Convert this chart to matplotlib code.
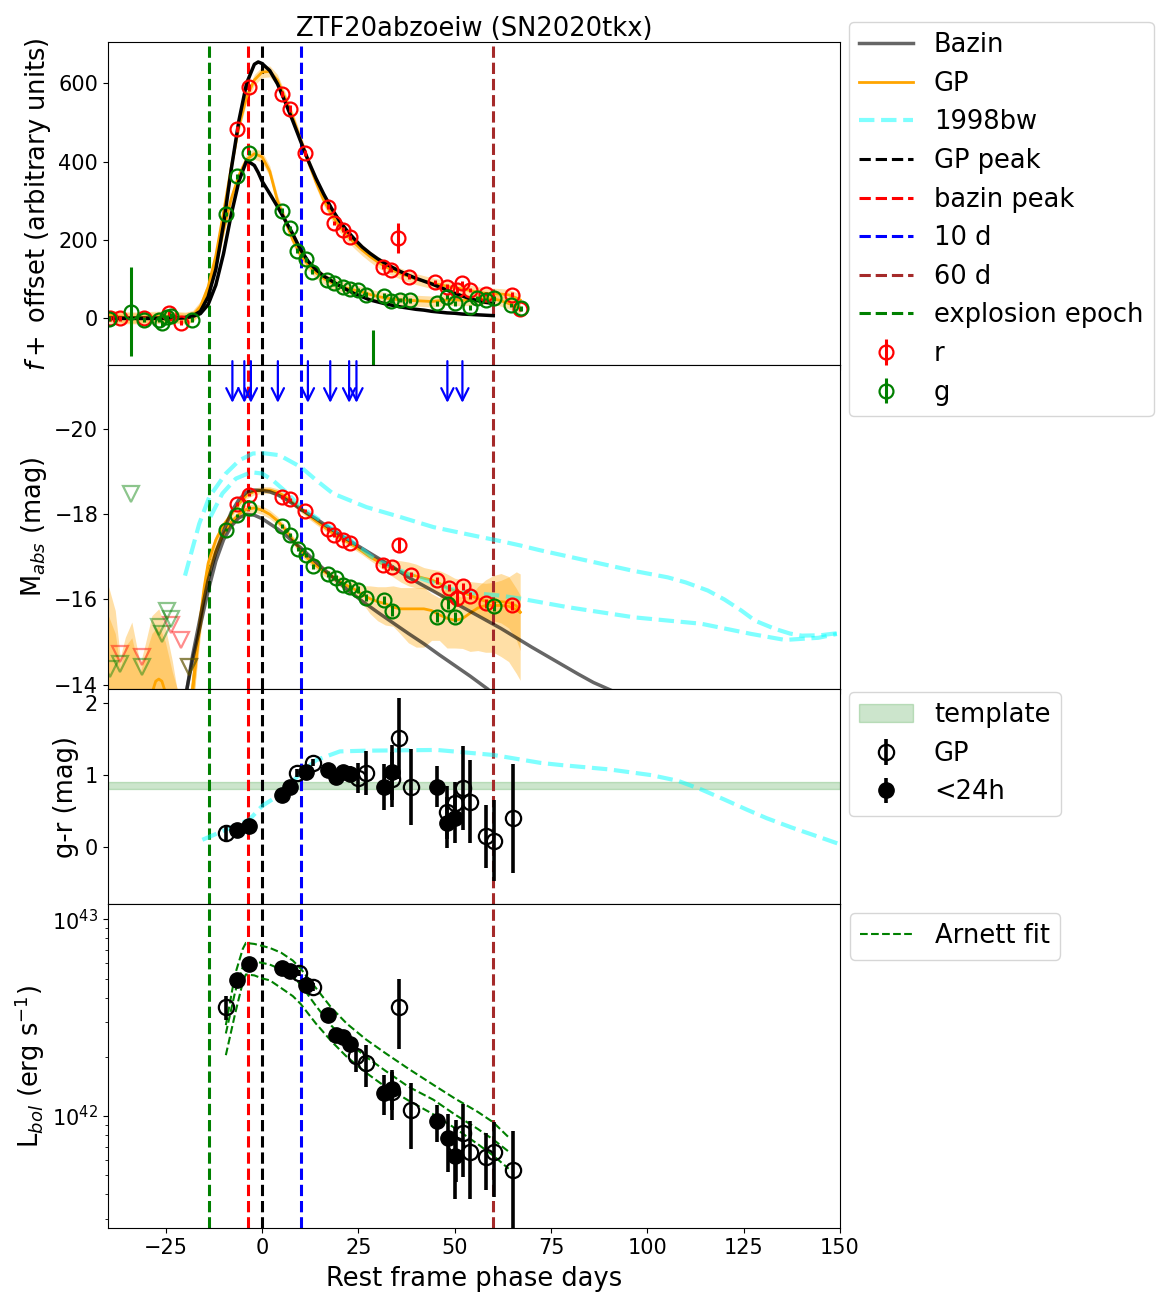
import numpy as np
import matplotlib
matplotlib.use("Agg")
import matplotlib.pyplot as plt
from matplotlib.patches import Patch

# --- photometry (flux, arbitrary units) ---
r_phase = [-39.4, -36.8, -30.7, -24.2, -21.1, -6.4, -3.5, 5.2, 7.3, 11.2, 17.1, 18.8, 20.9, 22.9,
           31.4, 33.4, 35.4, 38.2, 44.9, 48.1, 50.7, 51.9, 54.0, 58.0, 64.9, 66.9]
r_flux = [0, 0, 0, 13, -11, 483, 589, 572, 535, 421, 285, 243, 226, 207,
          132, 123, 204, 106, 93, 81, 72, 89, 72, 62, 60, 24]
r_flux_err = [6, 6, 6, 6, 6, 8, 8, 8, 8, 8, 6, 6, 6, 6,
              6, 6, 38, 6, 6, 6, 8, 6, 6, 6, 6, 6]

g_phase = [-39.8, -33.9, -30.7, -26.8, -25.9, -24.6, -23.7, -18.1, -9.4, -6.4, -3.3, 5.2, 7.3, 9.0,
           11.3, 13.0, 16.8, 18.8, 20.9, 22.9, 24.9, 26.9, 28.7, 31.6, 33.4, 35.8, 38.4, 45.4,
           48.0, 50.1, 54.0, 55.8, 58.0, 60.1, 64.5, 67.1]
g_flux = [-1, 17, -3, -3, -13, 3, 7, -3, 266, 362, 423, 275, 230, 173,
          151, 119, 98, 89, 79, 74, 72, 60, -250, 58, 45, 47, 46, 38,
          55, 38, 28, 51, 47, 51, 34, 26]
g_flux_err = [6, 113, 6, 6, 6, 6, 6, 6, 6, 6, 6, 6, 6, 6,
              6, 6, 6, 6, 6, 6, 6, 6, 220, 6, 6, 6, 6, 6,
              6, 6, 6, 6, 6, 6, 6, 6]

# GP fits to the flux light curves
gpf_phase = [-40, -36, -32, -28, -24, -20, -18, -16, -14, -12, -10, -8, -6, -4, -2, 0, 2, 4, 6, 8,
             10, 12, 14, 16, 18, 20, 22, 24, 26, 28, 30, 32, 34, 36, 38, 40, 42, 44, 46, 48,
             50, 52, 54, 56, 58, 60, 62, 64, 66, 67]
gpf_r = [8, 3, 2, 4, 5, 2, 6, 30, 80, 160, 270, 385, 490, 565, 608, 628, 630, 608, 562, 512,
         456, 400, 348, 302, 265, 236, 212, 192, 174, 158, 144, 132, 122, 114, 107, 100, 95, 90, 86, 82,
         78, 75, 71, 67, 64, 63, 62, 60, 52, 47]
gpf_g = [2, 0, 0, 0, 2, 0, 4, 25, 70, 135, 225, 305, 365, 405, 420, 412, 375, 300, 250, 200,
         162, 136, 116, 102, 91, 83, 77, 72, 67, 61, 56, 52, 49, 47, 46, 45, 44, 43, 45, 47,
         47, 46, 47, 49, 50, 50, 45, 38, 30, 26]

# Bazin fits (flux)
bzf_phase = [-40, -30, -24, -22, -20, -18, -16, -14, -12, -10, -8, -6, -4, -2, -1, 0, 2, 4, 6, 8,
             10, 12, 14, 16, 18, 20, 22, 24, 26, 28, 30, 32, 34, 36, 38, 40, 42, 44, 46, 48,
             50, 52, 54, 56, 58, 60]
bzf_r = [0, 0, 0, 1, 2, 6, 18, 55, 125, 240, 380, 505, 600, 648, 654, 650, 632, 598, 552, 503,
         452, 402, 357, 317, 281, 250, 224, 202, 182, 166, 152, 140, 129, 119, 110, 102, 95, 88, 80, 72,
         64, 57, 50, 45, 41, 38]
bzf_g = [0, 0, 0, 1, 2, 5, 12, 35, 85, 165, 265, 350, 403, 390, 372, 350, 318, 285, 250, 215,
         175, 145, 124, 108, 96, 84, 73, 63, 55, 47, 42, 37, 33, 29, 26, 23, 21, 18, 16, 14,
         13, 11, 10, 9, 8, 7]

# --- absolute magnitudes ---
rm_phase = [-6.6, -3.3, 5.2, 7.3, 11.2, 17.1, 18.8, 21.0, 22.9, 31.4, 33.6, 35.6, 38.6, 45.5,
            48.4, 50.6, 52.1, 54.0, 58.0, 64.9]
rm = [-18.24, -18.46, -18.41, -18.35, -18.09, -17.65, -17.51, -17.40, -17.32, -16.80, -16.76, -17.29,
      -16.58, -16.45, -16.28, -16.04, -16.31, -16.09, -15.91, -15.86]
rm_err = [0.04, 0.04, 0.04, 0.04, 0.04, 0.05, 0.05, 0.05, 0.05, 0.06, 0.06, 0.15, 0.06, 0.08,
          0.08, 0.2, 0.08, 0.08, 0.1, 0.1]
gm_phase = [-9.4, -6.6, -3.3, 5.2, 7.3, 9.3, 11.3, 13.2, 17.1, 19.1, 21.0, 22.9, 24.9, 26.9,
            31.6, 33.6, 45.4, 48.2, 50.1, 60.1]
gm = [-17.64, -17.98, -18.16, -17.73, -17.52, -17.19, -17.04, -16.78, -16.60, -16.51, -16.35, -16.29,
      -16.23, -16.04, -15.99, -15.74, -15.58, -15.90, -15.58, -15.85]
gm_err = [0.04, 0.04, 0.04, 0.05, 0.05, 0.05, 0.05, 0.06, 0.06, 0.06, 0.06, 0.06, 0.08, 0.08,
          0.1, 0.12, 0.12, 0.12, 0.12, 0.12]

# non-detections (upper limits)
r_lim_phase = [-36.8, -31.1, -23.7, -21.1, -19.0]
r_lim = [-14.72, -14.64, -15.39, -15.04, -14.42]
g_lim_phase = [-39.4, -37.0, -33.9, -31.1, -26.8, -26.0, -24.6, -23.7, -19.0]
g_lim = [-14.37, -14.49, -18.49, -14.41, -15.35, -15.20, -15.74, -15.55, -14.42]

# GP fits in magnitude space
gpm_phase = [-19, -18, -17, -16, -15, -14, -12, -10, -8, -6, -4, -2, 0, 2, 4, 6, 8, 10, 12, 14,
             16, 18, 20, 22, 24, 26, 28, 30, 32, 34, 36, 38, 40, 42, 44, 46, 48, 50, 52, 54,
             56, 58, 60, 62, 64, 66, 67]
gpm_r = [-13.0, -13.9, -14.8, -15.6, -16.3, -16.85, -17.4, -17.75, -18.0, -18.25, -18.45, -18.54, -18.57,
         -18.57, -18.52, -18.42, -18.28, -18.13, -17.98, -17.84, -17.71, -17.58, -17.46, -17.36, -17.25,
         -17.13, -17.0, -16.9, -16.8, -16.73, -16.66, -16.6, -16.55, -16.5, -16.46, -16.38, -16.28,
         -16.2, -16.16, -16.1, -16.02, -15.96, -15.95, -15.95, -15.93, -15.85, -15.7]
gpm_r_w = [0.6, 0.5, 0.4, 0.3, 0.25, 0.2, 0.12, 0.08, 0.08, 0.08, 0.08, 0.08, 0.08, 0.08, 0.08, 0.08,
           0.08, 0.08, 0.08, 0.08, 0.08, 0.08, 0.08, 0.08, 0.08, 0.08, 0.08, 0.1, 0.14, 0.2, 0.25,
           0.28, 0.28, 0.25, 0.25, 0.3, 0.32, 0.3, 0.3, 0.32, 0.38, 0.42, 0.45, 0.5, 0.6, 0.8, 0.9]
gpm_g = [-13.0, -13.9, -14.7, -15.45, -16.1, -16.6, -17.15, -17.55, -17.82, -18.0, -18.12, -18.15, -18.1,
         -18.0, -17.85, -17.65, -17.4, -17.15, -16.95, -16.8, -16.66, -16.55, -16.43, -16.33, -16.24,
         -16.12, -16.02, -15.95, -15.9, -15.82, -15.78, -15.78, -15.78, -15.78, -15.74, -15.64, -15.56,
         -15.51, -15.55, -15.68, -15.8, -15.86, -15.86, -15.86, -15.84, -15.76, -15.7]
gpm_g_wb = [0.6, 0.5, 0.4, 0.3, 0.25, 0.2, 0.12, 0.1, 0.1, 0.1, 0.1, 0.1, 0.1, 0.1, 0.1, 0.1,
            0.1, 0.1, 0.1, 0.1, 0.1, 0.1, 0.12, 0.14, 0.16, 0.2, 0.3, 0.35, 0.4, 0.5, 0.5,
            0.5, 0.5, 0.5, 0.4, 0.4, 0.75, 0.6, 0.5, 0.4, 0.5, 0.6, 0.7, 0.75, 0.7, 0.5, 0.4]
gpm_g_wf = [0.6, 0.5, 0.4, 0.3, 0.25, 0.2, 0.12, 0.1, 0.1, 0.1, 0.1, 0.1, 0.1, 0.1, 0.1, 0.1,
            0.1, 0.1, 0.1, 0.1, 0.1, 0.1, 0.12, 0.14, 0.16, 0.2, 0.35, 0.45, 0.5, 0.45, 0.6,
            0.8, 0.9, 0.9, 0.7, 0.6, 0.7, 0.65, 0.7, 0.9, 1.0, 1.1, 1.1, 1.2, 1.3, 1.5, 1.6]

# GP band before the rise (unconstrained region)
gpl_phase = [-40.5, -39.8, -38.1, -36.8, -35.5, -33.8, -32.5, -31.6, -30.3, -28.6, -26.8, -25.1, -23.3, -22.0]
gpl_g_top = [-16.4, -16.29, -15.74, -14.64, -15.11, -15.47, -14.88, -14.49, -14.96, -15.62, -15.78, -15.35, -14.56, -13.86]
gpl_r_top = [-15.7, -15.6, -15.2, -14.4, -14.9, -15.1, -14.6, -14.3, -14.7, -15.2, -15.4, -15.0, -14.3, -13.9]
gpl_mean_phase = [-28.4, -27.6, -26.8, -26.0, -25.2]
gpl_mean = [-13.85, -14.08, -14.13, -14.08, -13.85]

# Bazin fits in magnitude space
bzm_r_phase = [-19.5, -18, -16, -14, -12, -10, -8, -6, -4, -2, 0, 2, 4, 6, 8, 10, 14, 18, 22, 26,
               30, 34, 38, 42, 46, 50, 54, 58, 62, 66, 70, 74, 78, 82, 86, 91]
bzm_r = [-13.9, -14.7, -15.6, -16.45, -17.1, -17.6, -18.05, -18.35, -18.52, -18.57, -18.56, -18.53,
         -18.46, -18.36, -18.25, -18.12, -17.9, -17.65, -17.42, -17.2, -16.98, -16.76, -16.52, -16.32,
         -16.12, -15.92, -15.72, -15.52, -15.32, -15.1, -14.88, -14.67, -14.46, -14.25, -14.05, -13.85]
bzm_g_phase = [-19.5, -18, -16, -14, -12, -10, -8, -6, -4, -2, 0, 2, 4, 6, 8, 10, 14, 18, 22, 26,
               30, 34, 38, 42, 46, 50, 54, 58.5]
bzm_g = [-13.9, -14.6, -15.4, -16.2, -16.9, -17.4, -17.72, -17.92, -18.0, -17.98, -17.9, -17.78,
         -17.66, -17.52, -17.36, -17.22, -16.88, -16.55, -16.24, -15.96, -15.7, -15.45, -15.2, -14.96,
         -14.7, -14.45, -14.2, -13.9]

# SN 1998bw template light curves
bw1_phase = [-20, -16.3, -13.7, -9.4, -5.9, -2.4, 0.2, 4.5, 10.1, 14.1, 18.4, 27.1, 35.8, 44.5, 55,
             62, 67, 72, 80, 88, 96, 105.3, 110, 115.7, 120, 124.4, 128, 133.1, 137, 140.1, 145, 149.5]
bw1 = [-16.56, -17.78, -18.41, -18.96, -19.27, -19.43, -19.44, -19.39, -19.11, -18.8, -18.49, -18.17,
       -17.94, -17.7, -17.5, -17.37, -17.27, -17.16, -17.0, -16.84, -16.68, -16.52, -16.4, -16.21,
       -16.0, -15.74, -15.5, -15.31, -15.2, -15.15, -15.16, -15.21]
bw2_phase = [-13.4, -10.3, -6.8, -2.9, 0, 2.8, 6.3, 10.1, 16, 22.9, 29.7, 38, 48.8, 55, 61.9,
             67.1, 79.3, 96.6, 114.0, 127.0, 135.7, 144.4, 149.2]
bw2 = [-17.94, -18.49, -18.84, -18.99, -18.96, -18.8, -18.52, -18.17, -17.8, -17.4, -16.92, -16.6,
       -16.25, -16.15, -16.09, -16.02, -15.82, -15.58, -15.43, -15.19, -15.05, -15.1, -15.19]

# spectroscopic epochs
spec_phase = [-7.7, -4.6, -2.9, 4.1, 11.9, 17.7, 22.6, 24.5, 48.1, 52.0]

# --- g-r colour ---
gp_gr_phase = [-9.4, 9.0, 13.2, 24.9, 26.9, 33.6, 35.6, 38.6, 48.0, 50.1, 52.1, 54.0, 58.0, 60.1, 65.1]
gp_gr = [0.19, 1.03, 1.17, 0.96, 1.03, 0.94, 1.51, 0.84, 0.48, 0.61, 0.82, 0.63, 0.15, 0.09, 0.40]
gp_gr_err = [0.12, 0.05, 0.05, 0.21, 0.30, 0.38, 0.56, 0.53, 0.37, 0.30, 0.58, 0.58, 0.44, 0.57, 0.76]
fast_gr_phase = [-6.4, -3.3, 5.2, 7.3, 11.3, 17.1, 19.1, 21.0, 22.9, 31.6, 33.6, 45.4, 48.0, 50.1]
fast_gr = [0.23, 0.29, 0.72, 0.84, 1.05, 1.07, 0.97, 1.05, 1.02, 0.84, 1.04, 0.84, 0.34, 0.40]
fast_gr_err = [0.04, 0.04, 0.04, 0.04, 0.05, 0.05, 0.05, 0.05, 0.1, 0.32, 0.38, 0.28, 0.35, 0.34]
bw_gr_phase = [-15.5, -9.4, -3.3, 0, 5.2, 10, 14.1, 20.2, 26.9, 45.4, 60.1, 72.3, 77.6, 90, 101,
               108, 114, 120, 125.8, 131, 137.5, 144, 150.4]
bw_gr = [0.10, 0.24, 0.38, 0.57, 0.75, 1.03, 1.21, 1.33, 1.34, 1.35, 1.28, 1.17, 1.14, 1.08, 1.0,
         0.92, 0.8, 0.66, 0.52, 0.40, 0.27, 0.15, 0.03]
template_gr = (0.80, 0.91)

# --- bolometric luminosity (1e42 erg/s) ---
gp_L_phase = [-9.4, 9.5, 13.2, 24.5, 26.9, 33.6, 35.6, 38.6, 50.4, 52.1, 54.0, 58.0, 60.1, 65.1]
gp_L = [3.59, 5.35, 4.54, 2.01, 1.86, 1.33, 3.59, 1.08, 0.71, 0.82, 0.66, 0.62, 0.66, 0.535]
gp_L_err = [0.5, 0.2, 0.2, 0.33, 0.45, 0.38, 1.4, 0.4, 0.25, 0.33, 0.28, 0.2, 0.27, 0.3]
fast_L_phase = [-6.4, -3.3, 5.2, 7.3, 11.3, 17.1, 19.1, 21.0, 22.9, 31.6, 33.6, 45.4, 48.2, 50.1]
fast_L = [4.94, 5.94, 5.66, 5.44, 4.65, 3.27, 2.59, 2.52, 2.33, 1.31, 1.37, 0.94, 0.77, 0.63]
fast_L_err = [0.2, 0.2, 0.2, 0.2, 0.2, 0.15, 0.1, 0.1, 0.1, 0.3, 0.3, 0.2, 0.25, 0.25]

arn_phase = [-9.4, -7, -5, -4.2, -2, 0, 2, 5, 8, 10, 14, 18, 22, 27, 32, 38, 44.5, 50, 56, 60, 64]
arn_hi = [2.9, 5.25, 7.08, 7.59, 7.5, 7.33, 7.16, 6.76, 6.17, 5.62, 4.47, 3.55, 2.95, 2.45, 2.09,
          1.74, 1.44, 1.23, 1.05, 0.93, 0.78]
arn_mid = [2.63, 4.27, 5.75, 6.12, 6.1, 6.01, 5.89, 5.56, 5.13, 4.66, 3.63, 2.88, 2.40, 2.0, 1.70,
           1.41, 1.21, 1.02, 0.86, 0.76, 0.66]
arn_lo = [2.04, 3.31, 4.79, 5.25, 5.19, 5.01, 4.9, 4.47, 4.07, 3.72, 2.95, 2.40, 2.0, 1.66, 1.41,
          1.20, 1.02, 0.87, 0.72, 0.63, 0.54]

t_expl, t_bazin, t_gp, t_10, t_60 = -13.9, -3.6, 0.0, 10.0, 60.0

LABEL_FS = 18.5
LEG_FS = 18.5
plt.rcParams['font.size'] = 15
fig = plt.figure(figsize=(11.57, 13.03), dpi=100)
gs = fig.add_gridspec(4, 1, height_ratios=[3, 3, 2, 3], hspace=0,
                      left=0.0933, right=0.726, top=0.9678, bottom=0.0576)
ax1 = fig.add_subplot(gs[0])
ax2 = fig.add_subplot(gs[1], sharex=ax1)
ax3 = fig.add_subplot(gs[2], sharex=ax1)
ax4 = fig.add_subplot(gs[3], sharex=ax1)

vlines = []
for ax in (ax1, ax2, ax3, ax4):
    vlines = [
        ax.axvline(t_gp, color='k', ls='--', lw=2.2, label='GP peak'),
        ax.axvline(t_bazin, color='r', ls='--', lw=2.2, label='bazin peak'),
        ax.axvline(t_10, color='b', ls='--', lw=2.2, label='10 d'),
        ax.axvline(t_60, color='brown', ls='--', lw=2.2, label='60 d'),
        ax.axvline(t_expl, color='g', ls='--', lw=2.2, label='explosion epoch'),
    ]

# panel 1: flux
gpf_phase_a = np.array(gpf_phase)
for f in (gpf_r, gpf_g):
    f = np.array(f)
    ax1.fill_between(gpf_phase_a, f - 14, f + 14, color='orange', alpha=0.35, lw=0)
    ax1.plot(gpf_phase_a, f, color='orange', lw=2)
ax1.plot(bzf_phase, bzf_r, color='k', lw=2.5)
ax1.plot(bzf_phase, bzf_g, color='k', lw=2.5)
eb_r = ax1.errorbar(r_phase, r_flux, yerr=r_flux_err, fmt='o', mfc='none', mec='r', ecolor='r',
                    ms=10, mew=1.6, elinewidth=2.2)
eb_g = ax1.errorbar(g_phase, g_flux, yerr=g_flux_err, fmt='o', mfc='none', mec='g', ecolor='g',
                    ms=10, mew=1.6, elinewidth=2.2)
ax1.set_ylim(-120, 705)
ax1.set_ylabel(r'$f+$ offset (arbitrary units)', fontsize=LABEL_FS)
ax1.set_title('ZTF20abzoeiw (SN2020tkx)', fontsize=LABEL_FS, pad=4)

# panel 2: absolute magnitude
ax2.fill_between(gpl_phase, gpl_g_top, -13.0, color='orange', alpha=0.35, lw=0)
ax2.fill_between(gpl_phase, gpl_r_top, -13.0, color='orange', alpha=0.35, lw=0)
ax2.plot(gpl_mean_phase, gpl_mean, color='orange', lw=2)
gpm_phase_a = np.array(gpm_phase)
gpm_r_a, gpm_g_a = np.array(gpm_r), np.array(gpm_g)
ax2.fill_between(gpm_phase_a, gpm_r_a - np.array(gpm_r_w), gpm_r_a + np.array(gpm_r_w),
                 color='orange', alpha=0.35, lw=0)
ax2.fill_between(gpm_phase_a, gpm_g_a - np.array(gpm_g_wb), gpm_g_a + np.array(gpm_g_wf),
                 color='orange', alpha=0.35, lw=0)
gp_line, = ax2.plot(gpm_phase_a, gpm_r_a, color='orange', lw=2, label='GP')
ax2.plot(gpm_phase_a, gpm_g_a, color='orange', lw=2)
bz_line, = ax2.plot(bzm_r_phase, bzm_r, color='k', alpha=0.6, lw=2.5, label='Bazin')
ax2.plot(bzm_g_phase, bzm_g, color='k', alpha=0.6, lw=2.5)
bw_line, = ax2.plot(bw1_phase, bw1, color='cyan', alpha=0.5, ls='--', lw=3, label='1998bw')
ax2.plot(bw2_phase, bw2, color='cyan', alpha=0.5, ls='--', lw=3)
ax2.plot(r_lim_phase, r_lim, 'v', mfc='none', mec='r', alpha=0.45, ms=12, mew=1.6)
ax2.plot(g_lim_phase, g_lim, 'v', mfc='none', mec='g', alpha=0.45, ms=12, mew=1.6)
ax2.errorbar(rm_phase, rm, yerr=rm_err, fmt='o', mfc='none', mec='r', ecolor='r',
             ms=10, mew=1.6, elinewidth=2.2)
ax2.errorbar(gm_phase, gm, yerr=gm_err, fmt='o', mfc='none', mec='g', ecolor='g',
             ms=10, mew=1.6, elinewidth=2.2)
for p in spec_phase:
    ax2.annotate('', xy=(p, -20.62), xytext=(p, -21.6), annotation_clip=False,
                 arrowprops=dict(arrowstyle='->', color='b', lw=1.6, mutation_scale=22,
                                 shrinkA=0, shrinkB=0))
ax2.set_ylim(-13.9, -21.5)
ax2.set_yticks([-20, -18, -16, -14])
ax2.set_ylabel(r'M$_{abs}$ (mag)', fontsize=LABEL_FS)

# panel 3: colour
ax3.axhspan(template_gr[0], template_gr[1], color='g', alpha=0.2, label='template')
ax3.plot(bw_gr_phase, bw_gr, color='cyan', alpha=0.5, ls='--', lw=3)
eb_gp = ax3.errorbar(gp_gr_phase, gp_gr, yerr=gp_gr_err, fmt='o', mfc='none', mec='k', ecolor='k',
                     ms=11, mew=1.6, elinewidth=2.6, label='GP')
eb_fast = ax3.errorbar(fast_gr_phase, fast_gr, yerr=fast_gr_err, fmt='o', color='k',
                       ms=11, elinewidth=2.6, label='<24h')
ax3.set_ylim(-0.8, 2.2)
ax3.set_yticks([0, 1, 2])
ax3.set_ylabel('g-r (mag)', fontsize=LABEL_FS)

# panel 4: bolometric luminosity
scale = 1e42
ax4.plot(arn_phase, np.array(arn_hi) * scale, color='g', ls='--', lw=1.5)
arn_line, = ax4.plot(arn_phase, np.array(arn_mid) * scale, color='g', ls='--', lw=1.5, label='Arnett fit')
ax4.plot(arn_phase, np.array(arn_lo) * scale, color='g', ls='--', lw=1.5)
ax4.errorbar(gp_L_phase, np.array(gp_L) * scale, yerr=np.array(gp_L_err) * scale, fmt='o', mfc='none',
             mec='k', ecolor='k', ms=11, mew=1.6, elinewidth=2.6)
ax4.errorbar(fast_L_phase, np.array(fast_L) * scale, yerr=np.array(fast_L_err) * scale, fmt='o',
             color='k', ms=11, elinewidth=2.6)
ax4.set_yscale('log')
ax4.set_ylim(2.7e41, 1.19e43)
ax4.set_ylabel(r'L$_{bol}$ (erg s$^{-1}$)', fontsize=LABEL_FS)
ax4.set_xlabel('Rest frame phase days', fontsize=LABEL_FS, labelpad=6)
ax4.set_xlim(-40, 150)
ax4.set_xticks([-25, 0, 25, 50, 75, 100, 125, 150])

for ax in (ax1, ax2, ax3):
    ax.tick_params(labelbottom=False)

handles = [bz_line, gp_line, bw_line] + vlines + [eb_r, eb_g]
labels = ['Bazin', 'GP', '1998bw', 'GP peak', 'bazin peak', '10 d', '60 d', 'explosion epoch', 'r', 'g']
leg_kw = dict(loc='upper left', borderaxespad=0, fontsize=LEG_FS, labelspacing=0.49, handlelength=2.1)
fig.legend(handles, labels, bbox_to_anchor=(849 / 1157, 1 - 22 / 1303), **leg_kw)
fig.legend([Patch(facecolor='g', alpha=0.2, edgecolor='g'), eb_gp, eb_fast], ['template', 'GP', '<24h'],
           bbox_to_anchor=(849 / 1157, 1 - 692 / 1303), **leg_kw)
fig.legend([arn_line], ['Arnett fit'], bbox_to_anchor=(850 / 1157, 1 - 913 / 1303), **leg_kw)

fig.savefig('out.png', dpi=100)
